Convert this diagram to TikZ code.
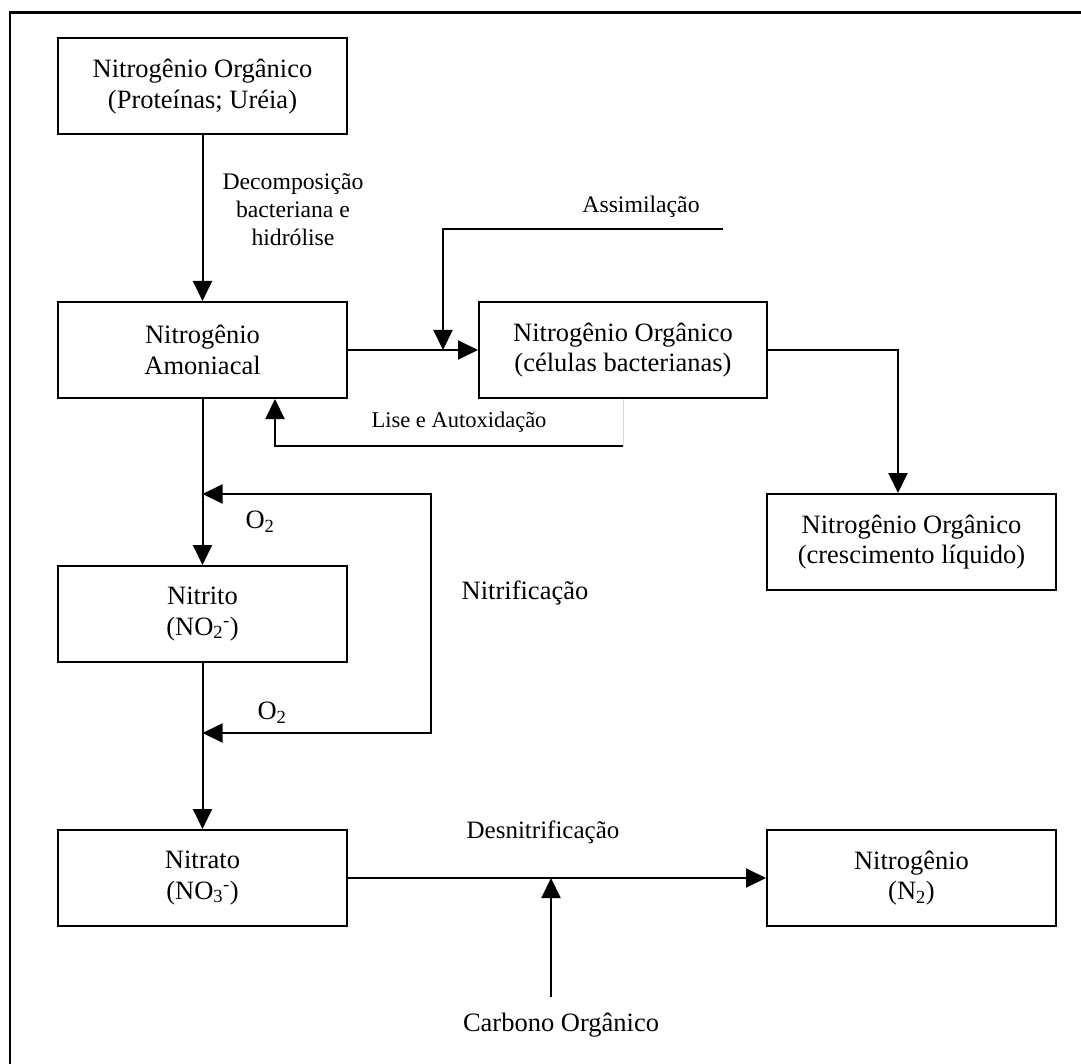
\documentclass[tikz,border=0pt]{standalone}
\usepackage{fontspec}
\setmainfont{Liberation Serif}
\usetikzlibrary{arrows.meta}
\begin{document}
\begin{tikzpicture}[x=1pt,y=-1pt,
  box/.style={draw,line width=2pt,minimum width=289pt,minimum height=96pt,inner sep=0pt,align=center,font=\fontsize{26.5}{30.5}\selectfont},
  arr/.style={line width=2pt,-{Triangle[length=20pt,width=19pt]}},
  arrboth/.style={line width=2pt,{Triangle[length=20pt,width=19pt]}-{Triangle[length=20pt,width=19pt]}},
  lbl/.style={inner sep=0pt,align=center,font=\fontsize{26.5}{30.5}\selectfont},
  lblsmall/.style={inner sep=0pt,align=center,font=\fontsize{23.7}{28}\selectfont}]
\useasboundingbox (0,0) rectangle (1081,1064);
\draw[line width=2.8pt] (1081,12.7) -- (10,12.7) -- (10,1064);

% boxes
\node[box] (b1) at (202.5,86.5) {Nitrogênio Orgânico\\(Proteínas; Uréia)};
\node[box] (b2) at (202.5,350) {Nitrogênio\\Amoniacal};
\node[box,minimum width=288pt] (b3) at (623,350) {Nitrogênio Orgânico\\(células bacterianas)};
\node[box] (b4) at (202.5,614) {Nitrito\\(NO\textsubscript{2}\textsuperscript{-})};
\node[box] (b5) at (202.5,878) {Nitrato\\(NO\textsubscript{3}\textsuperscript{-})};
\node[box] (b6) at (911.5,878) {Nitrogênio\\(N\textsubscript{2})};
\node[box] (b7) at (911.5,542) {Nitrogênio Orgânico\\(crescimento líquido)};

% labels
\node[lblsmall] (ldec) at (293,210) {Decomposição\\bacteriana e\\hidrólise};
\node[lblsmall] (lass) at (641,207) {Assimilação};
\node[lbl,font=\fontsize{22.5}{27}\selectfont] (llis) at (459,422) {Lise e Autoxidação};
\node[lbl] (lo1) at (260,522) {O\textsubscript{2}};
\node[lbl] (lo2) at (272,713) {O\textsubscript{2}};
\node[lbl] (lnit) at (525,593) {Nitrificação};
\node[lbl,font=\fontsize{25}{29}\selectfont] (lden) at (543,832) {Desnitrificação};
\node[lbl] (lcar) at (561,1025) {Carbono Orgânico};

% connectors
\draw[arr] (b1) -- (b2);
\draw[arr] (b2) -- (b3);
\coordinate (as) at (723,229);
\coordinate (aj) at (443,229);
\draw[arr] (as) -- (aj) -- (aj |- b3.west);

\coordinate (ls) at (623,446);
\coordinate (lj) at (275,446);
\draw[black!15,line width=1pt] (b3.south) -- (ls);
\draw[arr] (ls) -- (lj) -- (lj |- b2.south);

\draw[arr] (b2) -- (b4);
\coordinate (n1) at (431,494);
\coordinate (n2) at (431,733);
\draw[arrboth] (n1 -| b4.north) -- (n1) -- (n2) -- (n2 -| b4.north);
\draw[arr] (b4) -- (b5);

\draw[arr] (b5) -- (b6);
\coordinate (cs) at (551,997);
\draw[arr] (cs) -- (cs |- b5.east);

\draw[arr] (b3.east) -| ([xshift=132pt]b7.north west);
\end{tikzpicture}
\end{document}
